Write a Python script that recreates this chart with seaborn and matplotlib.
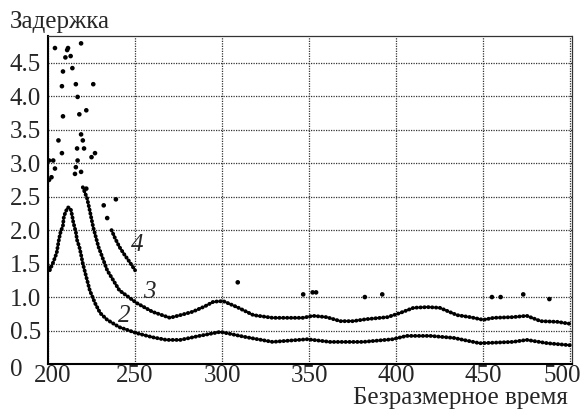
import numpy as np
import pandas as pd
import matplotlib
matplotlib.use("Agg")
import matplotlib.pyplot as plt
import matplotlib.transforms as mtransforms
import seaborn as sns
from matplotlib.ticker import FuncFormatter

# curve 2 (lower)
x2 = [200, 201, 203, 205, 206, 207, 208.6, 209, 210, 211.5, 213, 214, 214.5, 216, 216.7, 218, 219,
      220, 222, 224, 227, 230, 234, 241, 251, 260, 268, 276, 287, 299, 314, 329, 349, 362, 381,
      398, 406, 419.5, 433, 448, 467, 475, 487, 500]
y2 = [1.45, 1.40, 1.52, 1.66, 1.82, 1.95, 2.07, 2.18, 2.27, 2.34, 2.32, 2.20, 2.12, 1.97, 1.85, 1.75, 1.63,
      1.50, 1.30, 1.10, 0.91, 0.76, 0.66, 0.55, 0.46, 0.40, 0.36, 0.36, 0.42, 0.48, 0.40, 0.33, 0.37, 0.33, 0.33,
      0.37, 0.42, 0.42, 0.39, 0.31, 0.33, 0.36, 0.31, 0.28]

# curve 3 (middle)
x3 = [220, 222.4, 223.6, 226, 229, 234, 241, 251, 260, 270, 276, 283, 290, 295, 300.6, 308.6, 318, 329,
      346.6, 352, 360, 368, 375, 383, 395, 402, 410, 418, 425, 435, 442.5, 450, 456, 467, 475, 483, 492.5, 500]
y3 = [2.64, 2.48, 2.34, 2.04, 1.75, 1.40, 1.10, 0.91, 0.78, 0.69, 0.73, 0.78, 0.86, 0.93, 0.94, 0.85, 0.73, 0.69,
      0.69, 0.72, 0.70, 0.64, 0.64, 0.67, 0.70, 0.76, 0.84, 0.85, 0.84, 0.73, 0.70, 0.66, 0.69, 0.70, 0.72, 0.64, 0.63, 0.60]

# curve 4 (upper tail)
x4 = [236.5, 238.5, 241, 244, 247, 250]
y4 = [2.00, 1.88, 1.75, 1.63, 1.52, 1.40]

# scattered points of curve 4
xs = [204, 211, 211.5, 213, 210, 219, 208.6, 214, 208, 216, 226, 217, 208.6, 218, 222,
      206, 219, 220, 216.7, 220.7, 217, 216, 215.5, 219, 225, 227, 208, 200.6, 203, 204, 202, 200.6,
      222, 232, 234, 239,
      309, 346.6, 352, 354, 382, 392, 455, 460, 473, 488]
ys = [4.72, 4.69, 4.72, 4.60, 4.58, 4.79, 4.37, 4.42, 4.15, 4.18, 4.18, 3.99, 3.70, 3.73, 3.79,
      3.34, 3.43, 3.34, 3.22, 3.22, 3.04, 2.94, 2.84, 2.87, 3.09, 3.15, 3.15, 3.04, 3.04, 2.92, 2.79, 2.75,
      2.62, 2.37, 2.18, 2.46,
      1.22, 1.04, 1.07, 1.07, 1.00, 1.04, 1.00, 1.00, 1.04, 0.97]

labels = ["2", "3", "4"]
label_x = [243.7, 258, 251]
label_y = [0.72, 1.08, 1.78]

xticks = [200, 250, 300, 350, 400, 450, 500]
yticks = [0, 0.5, 1.0, 1.5, 2.0, 2.5, 3.0, 3.5, 4.0, 4.5]

sns.set_style("white")
plt.rcParams["font.family"] = ["Liberation Serif", "DejaVu Serif"]

fig = plt.figure(figsize=(5.84, 4.18), dpi=100)
ax = fig.add_axes([48 / 584, 1 - 364 / 418, (572 - 48) / 584, (364 - 36) / 418])

dots = dict(color="black", linewidth=2.8, linestyle=(0, (0.1, 0.9)), dash_capstyle="round")
sns.lineplot(x=x2, y=y2, ax=ax, sort=False, **dots)
sns.lineplot(x=x3, y=y3, ax=ax, sort=False, **dots)
sns.lineplot(x=x4, y=y4, ax=ax, sort=False, **dots)
sns.scatterplot(x=xs, y=ys, ax=ax, color="black", s=11, edgecolor="none")

for t, lx, ly in zip(labels, label_x, label_y):
    ax.text(lx, ly, t, fontsize=18, style="italic", ha="center", va="center")

ax.set_xlim(200, 501)
ax.set_ylim(0, 4.9)
ax.set_xticks(xticks)
ax.set_yticks(yticks)
ax.yaxis.set_major_formatter(FuncFormatter(lambda v, p: "0" if v == 0 else f"{v:.1f}"))
ax.tick_params(labelsize=18, length=0)
ax.tick_params(axis="x", pad=1)
ax.tick_params(axis="y", pad=27.4)
for lab in ax.get_yticklabels():
    lab.set_horizontalalignment("left")

# nudge edge labels the way the original does
xl = ax.get_xticklabels()
xl[0].set_transform(xl[0].get_transform() + mtransforms.ScaledTranslation(5 / 100, 0, fig.dpi_scale_trans))
xl[-1].set_transform(xl[-1].get_transform() + mtransforms.ScaledTranslation(-8 / 100, 0, fig.dpi_scale_trans))
yl = ax.get_yticklabels()
yl[0].set_transform(yl[0].get_transform() + mtransforms.ScaledTranslation(0, -4 / 100, fig.dpi_scale_trans))

ax.grid(True, color="#333333", linestyle=(0, (1, 1)), linewidth=0.9)
ax.set_xlabel("")
ax.set_ylabel("")

for side in ["left", "bottom"]:
    ax.spines[side].set_color("black")
    ax.spines[side].set_linewidth(1.5)
for side in ["top", "right"]:
    ax.spines[side].set_color("#333333")
    ax.spines[side].set_linestyle((0, (1, 1)))
    ax.spines[side].set_linewidth(0.9)

fig.text(10 / 584, 1 - 28 / 418, "Задержка", fontsize=18, va="baseline", ha="left")
fig.text(568 / 584, 1 - 404 / 418, "Безразмерное время", fontsize=18, va="baseline", ha="right")

fig.savefig("out.png", dpi=100)
